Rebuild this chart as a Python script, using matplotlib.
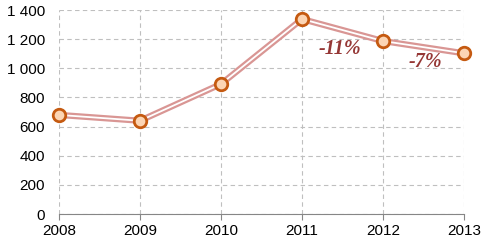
import matplotlib.pyplot as plt
from matplotlib.ticker import FuncFormatter

years = [2008, 2009, 2010, 2011, 2012, 2013]
values = [680, 640, 892, 1338, 1187, 1103]
change_labels = ['-11%', '-7%']
label_pos = [(2011.47, 1135), (2012.52, 1040)]

fig = plt.figure(figsize=(4.86, 2.43), dpi=100)
ax = fig.add_axes([59 / 486, 1 - 214 / 243, 405 / 486, 204 / 243])

# double line: thick pink with thin white core
ax.plot(years, values, color='#d99694', lw=4.5, solid_capstyle='butt', zorder=3)
ax.plot(years, values, color='white', lw=1.3, zorder=4)
ax.plot(years, values, ls='none', marker='o', ms=9, mfc='#fcd5b4', mec='#c55a11', mew=2, zorder=5)

for txt, (x, y) in zip(change_labels, label_pos):
    ax.text(x, y, txt, color='#953735', fontsize=14.5, fontweight='bold', fontstyle='italic',
            family='Liberation Serif', ha='center', va='center')

ax.set_xlim(2008, 2013)
ax.set_ylim(0, 1400)
ax.set_xticks(years)
ax.set_yticks(range(0, 1401, 200))
ax.yaxis.set_major_formatter(FuncFormatter(lambda v, p: f'{int(v):,}'.replace(',', ' ')))
ax.grid(True, ls=(0, (4, 3)), color='#bfbfbf', lw=0.8)
ax.set_axisbelow(True)
for s in ['top', 'right', 'left']:
    ax.spines[s].set_visible(False)
ax.spines['bottom'].set_color('#868686')
ax.tick_params(axis='y', length=0, pad=10)
ax.tick_params(axis='x', length=4, color='#868686', pad=3)
for lab in ax.get_xticklabels() + ax.get_yticklabels():
    lab.set_family('Liberation Sans')
    lab.set_fontsize(11)
for ln in ax.lines:
    ln.set_clip_on(False)

fig.savefig('out.png', dpi=100)
